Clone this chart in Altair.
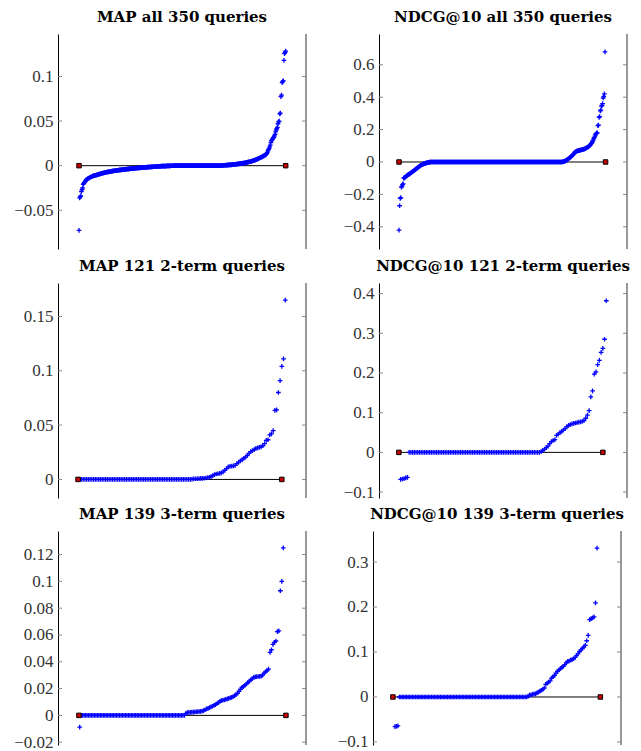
import altair as alt
import pandas as pd

TITLES = [
    "MAP all 350 queries", "NDCG@10 all 350 queries",
    "MAP 121 2-term queries", "NDCG@10 121 2-term queries",
    "MAP 139 3-term queries", "NDCG@10 139 3-term queries",
]

MAP_ALL = [
    -0.0725, -0.036, -0.035, -0.034, -0.029, -0.027, -0.025,
    -0.021, -0.020, -0.019, -0.018, -0.017,
    -0.0160, -0.0155, -0.0150, -0.0146, -0.0142, -0.0138, -0.0134, -0.0130,
    -0.0127, -0.0124, -0.0121, -0.0118, -0.0115, -0.0113, -0.0111, -0.0109, -0.0107, -0.0105,
    -0.0103, -0.0101, -0.0099, -0.0097, -0.0095, -0.0093, -0.0091, -0.0089, -0.0087, -0.0085,
    -0.0083, -0.0082, -0.0080, -0.0079, -0.0077, -0.0076, -0.0074, -0.0073, -0.0071, -0.0070,
    -0.0069, -0.0068, -0.0066, -0.0065, -0.0064, -0.0063, -0.0062, -0.0060, -0.0059, -0.0058,
    -0.0057, -0.0056, -0.0055, -0.0054, -0.0053, -0.0052, -0.0051, -0.0050, -0.0049, -0.0048,
    -0.0047, -0.0046, -0.0046, -0.0045, -0.0044, -0.0043, -0.0042, -0.0042, -0.0041, -0.0040,
    -0.0039, -0.0039, -0.0038, -0.0037, -0.0036, -0.0036, -0.0035, -0.0034, -0.0034, -0.0033,
    -0.0032, -0.0032, -0.0031, -0.0030, -0.0030, -0.0029, -0.0028, -0.0028, -0.0027, -0.0026,
    -0.0026, -0.0025, -0.0025, -0.0024, -0.0023, -0.0023, -0.0022, -0.0022, -0.0021, -0.0020,
    -0.0020, -0.0019, -0.0019, -0.0018, -0.0018, -0.0017, -0.0017, -0.0016, -0.0016, -0.0015,
    -0.0015, -0.0014, -0.0014, -0.0013, -0.0013, -0.0012, -0.0012, -0.0011, -0.0011, -0.0010,
    -0.0010, -0.0009, -0.0009, -0.0009, -0.0008, -0.0008, -0.0007, -0.0007, -0.0007, -0.0006,
    -0.0006, -0.0006, -0.0005, -0.0005, -0.0005, -0.0004, -0.0004, -0.0004, -0.0003, -0.0003,
    -0.0003, -0.0002, -0.0002, -0.0002, -0.0002, -0.0001, -0.0001, -0.0001, -0.0001, -0.0001,
    0, 0, 0, 0, 0, 0, 0, 0, 0, 0, 0, 0, 0, 0, 0, 0, 0, 0, 0, 0,
    0, 0, 0, 0, 0, 0, 0, 0, 0, 0, 0, 0, 0, 0, 0, 0, 0, 0, 0, 0,
    0, 0, 0, 0, 0, 0, 0, 0, 0, 0, 0, 0, 0, 0, 0, 0, 0, 0, 0, 0,
    0, 0, 0, 0, 0, 0, 0, 0, 0, 0, 0, 0, 0, 0, 0, 0, 0, 0, 0, 0,
    0.0002, 0.0002, 0.0003, 0.0003, 0.0004, 0.0004, 0.0005, 0.0005, 0.0006, 0.0006,
    0.0007, 0.0007, 0.0008, 0.0008, 0.0009, 0.0009, 0.0010, 0.0010, 0.0011, 0.0012,
    0.0012, 0.0013, 0.0014, 0.0014, 0.0015, 0.0016, 0.0017, 0.0018, 0.0019, 0.0020,
    0.0021, 0.0022, 0.0023, 0.0024, 0.0025, 0.0026, 0.0027, 0.0028, 0.0029, 0.0030,
    0.0032, 0.0033, 0.0035, 0.0036, 0.0038, 0.0039, 0.0041, 0.0042, 0.0044, 0.0045,
    0.0047, 0.0049, 0.0051, 0.0053, 0.0055, 0.0057, 0.0059, 0.0062, 0.0065, 0.0068,
    0.0071, 0.0074, 0.0077, 0.0080, 0.0083, 0.0086, 0.0089, 0.0092, 0.0095, 0.0098,
    0.0102, 0.0106, 0.0110, 0.0114, 0.0118, 0.0122, 0.0126, 0.0135,
    0.0150, 0.0165, 0.0180, 0.0195, 0.0210, 0.0230, 0.0260, 0.0280, 0.0290, 0.0300, 0.0310, 0.0320,
    0.0335, 0.0350, 0.0380, 0.0400, 0.0415, 0.0430, 0.0470, 0.0490, 0.0500, 0.0580,
    0.0590, 0.0775, 0.0790, 0.0930, 0.0945, 0.0950, 0.1180, 0.1255, 0.1270, 0.1285,
]

NDCG_ALL = [
    -0.42, -0.27, -0.225, -0.22, -0.155, -0.150, -0.140, -0.135,
    -0.100, -0.098, -0.095, -0.092,
    -0.088, -0.085, -0.083, -0.080, -0.078, -0.075, -0.073, -0.070,
    -0.068, -0.065, -0.062, -0.060, -0.057, -0.054, -0.051, -0.049, -0.046, -0.043,
    -0.040, -0.037, -0.034, -0.031, -0.028, -0.025, -0.022, -0.020, -0.018, -0.016,
    -0.014, -0.013, -0.012, -0.010, -0.009, -0.008, -0.006, -0.005, -0.004, -0.003,
    -0.002, -0.002, -0.001, -0.001,
    0, 0, 0, 0, 0, 0, 0, 0, 0, 0, 0, 0, 0, 0, 0, 0, 0, 0, 0, 0,
    0, 0, 0, 0, 0, 0, 0, 0, 0, 0, 0, 0, 0, 0, 0, 0, 0, 0, 0, 0,
    0, 0, 0, 0, 0, 0, 0, 0, 0, 0, 0, 0, 0, 0, 0, 0, 0, 0, 0, 0,
    0, 0, 0, 0, 0, 0, 0, 0, 0, 0, 0, 0, 0, 0, 0, 0, 0, 0, 0, 0,
    0, 0, 0, 0, 0, 0, 0, 0, 0, 0, 0, 0, 0, 0, 0, 0, 0, 0, 0, 0,
    0, 0, 0, 0, 0, 0, 0, 0, 0, 0, 0, 0, 0, 0, 0, 0, 0, 0, 0, 0,
    0, 0, 0, 0, 0, 0, 0, 0, 0, 0, 0, 0, 0, 0, 0, 0, 0, 0, 0, 0,
    0, 0, 0, 0, 0, 0, 0, 0, 0, 0, 0, 0, 0, 0, 0, 0, 0, 0, 0, 0,
    0, 0, 0, 0, 0, 0, 0, 0, 0, 0, 0, 0, 0, 0, 0, 0, 0, 0, 0, 0,
    0, 0, 0, 0, 0, 0, 0, 0, 0, 0, 0, 0, 0, 0, 0, 0, 0, 0, 0, 0,
    0, 0, 0, 0, 0, 0, 0, 0, 0, 0, 0, 0, 0, 0, 0, 0, 0, 0, 0, 0,
    0, 0, 0,
    0.001, 0.002, 0.003, 0.004, 0.005, 0.007, 0.009, 0.011,
    0.014, 0.017, 0.020, 0.023, 0.026, 0.029, 0.032, 0.035, 0.038, 0.041,
    0.045, 0.050, 0.055, 0.060, 0.063, 0.065, 0.067, 0.068, 0.069, 0.070,
    0.071, 0.072, 0.073, 0.074, 0.075, 0.076, 0.077, 0.078, 0.079, 0.080,
    0.082, 0.084, 0.086, 0.088, 0.090, 0.092, 0.095, 0.098, 0.101, 0.105,
    0.110, 0.115, 0.120, 0.128, 0.135, 0.145, 0.150, 0.160, 0.170, 0.175,
    0.178, 0.180, 0.225, 0.228, 0.275, 0.280, 0.315, 0.320,
    0.345, 0.350, 0.360, 0.395, 0.405, 0.420, 0.680,
]

MAP_2T = [
    0, 0, 0, 0, 0, 0, 0, 0, 0, 0, 0, 0, 0, 0, 0, 0, 0, 0, 0, 0, 0, 0,
    0, 0, 0, 0, 0, 0, 0, 0, 0, 0, 0, 0, 0, 0, 0, 0, 0, 0, 0, 0, 0, 0,
    0, 0, 0, 0, 0, 0, 0, 0, 0, 0, 0, 0, 0, 0, 0, 0, 0, 0, 0, 0, 0, 0,
    0.0003, 0.0005, 0.0006, 0.0007, 0.0008, 0.0009, 0.0010, 0.0011, 0.0013,
    0.0016, 0.0020, 0.0025, 0.0035, 0.0045,
    0.0050, 0.0052, 0.0055, 0.0060, 0.0070, 0.0085, 0.0100, 0.0115, 0.0120, 0.0122,
    0.0125, 0.0130, 0.0145, 0.0160, 0.0170, 0.0180, 0.0195, 0.0205, 0.0220, 0.0240,
    0.0255, 0.0265, 0.0275, 0.0285, 0.0290, 0.0295, 0.0300, 0.0310, 0.0330, 0.0360,
    0.0365, 0.0410, 0.0420, 0.0450, 0.0635, 0.0640, 0.0800, 0.0910, 0.1040, 0.1110, 0.1650,
]

NDCG_2T = [
    -0.068, -0.067, -0.066, -0.064, -0.063,
    0, 0, 0, 0, 0, 0, 0, 0, 0, 0, 0, 0, 0, 0, 0, 0, 0, 0, 0, 0, 0, 0,
    0, 0, 0, 0, 0, 0, 0, 0, 0, 0, 0, 0, 0, 0, 0, 0, 0, 0, 0, 0, 0, 0,
    0, 0, 0, 0, 0, 0, 0, 0, 0, 0, 0, 0, 0, 0, 0, 0, 0, 0, 0, 0, 0, 0,
    0, 0, 0, 0, 0, 0, 0, 0, 0, 0, 0,
    0.002, 0.005, 0.008, 0.012, 0.016, 0.022, 0.027, 0.030,
    0.032, 0.043, 0.046, 0.050, 0.053, 0.056, 0.060, 0.065, 0.068, 0.070,
    0.072, 0.073, 0.074, 0.075, 0.076, 0.077, 0.078, 0.080, 0.086, 0.094,
    0.105, 0.140, 0.155, 0.197, 0.203, 0.221, 0.232, 0.252, 0.262, 0.285, 0.382,
]

MAP_3T = [
    -0.0087,
    0, 0, 0, 0, 0, 0, 0, 0, 0, 0, 0, 0, 0, 0, 0, 0, 0, 0, 0, 0, 0, 0, 0, 0,
    0, 0, 0, 0, 0, 0, 0, 0, 0, 0, 0, 0, 0, 0, 0, 0, 0, 0, 0, 0, 0, 0, 0, 0,
    0, 0, 0, 0, 0, 0, 0, 0, 0, 0, 0, 0, 0, 0, 0, 0, 0, 0, 0, 0, 0, 0, 0,
    0.0015, 0.0020, 0.0022, 0.0023, 0.0024, 0.0025, 0.0026, 0.0027,
    0.0028, 0.0029, 0.0030, 0.0032, 0.0036, 0.0042, 0.0048, 0.0053, 0.0058, 0.0063,
    0.0068, 0.0074, 0.0080, 0.0087, 0.0095, 0.0105, 0.0110, 0.0113, 0.0116, 0.0120,
    0.0123, 0.0127, 0.0131, 0.0135, 0.0140, 0.0147, 0.0155, 0.0165, 0.0180, 0.0195,
    0.0210, 0.0215, 0.0225, 0.0235, 0.0245, 0.0255, 0.0265, 0.0275, 0.0283, 0.0287,
    0.0289, 0.0290, 0.0291, 0.0293, 0.0300, 0.0315, 0.0325, 0.0335, 0.0345, 0.0470,
    0.0490, 0.0530, 0.0545, 0.0555, 0.0625, 0.0630, 0.0930, 0.1000, 0.1250,
]

NDCG_3T = [
    -0.066, -0.065, -0.064,
    0, 0, 0, 0, 0, 0, 0, 0, 0, 0, 0, 0, 0, 0, 0, 0, 0, 0, 0, 0, 0, 0,
    0, 0, 0, 0, 0, 0, 0, 0, 0, 0, 0, 0, 0, 0, 0, 0, 0, 0, 0, 0, 0, 0,
    0, 0, 0, 0, 0, 0, 0, 0, 0, 0, 0, 0, 0, 0, 0, 0, 0, 0, 0, 0, 0, 0,
    0, 0, 0, 0, 0, 0, 0, 0, 0, 0, 0, 0, 0, 0, 0, 0, 0, 0, 0, 0, 0, 0,
    0.002, 0.004, 0.005, 0.006, 0.007, 0.007, 0.009, 0.011, 0.013,
    0.015, 0.017, 0.020, 0.028, 0.031, 0.033, 0.036, 0.042, 0.045, 0.048,
    0.053, 0.057, 0.060, 0.063, 0.066, 0.068, 0.072, 0.076, 0.079, 0.080,
    0.082, 0.083, 0.085, 0.088, 0.092, 0.096, 0.101, 0.104, 0.108, 0.111,
    0.115, 0.125, 0.137, 0.172, 0.174, 0.176, 0.178, 0.209, 0.331,
]

Y_DOMAINS = [
    [-0.0934, 0.1476], [-0.537, 0.790],
    [-0.0171, 0.1808], [-0.1149, 0.4267],
    [-0.0221, 0.1376], [-0.1067, 0.3689],
]
Y_TICKS = [
    [-0.05, 0, 0.05, 0.1], [-0.4, -0.2, 0, 0.2, 0.4, 0.6],
    [0, 0.05, 0.1, 0.15], [-0.1, 0, 0.1, 0.2, 0.3, 0.4],
    [-0.02, 0, 0.02, 0.04, 0.06, 0.08, 0.1, 0.12], [-0.1, 0, 0.1, 0.2, 0.3],
]
X_DOMAINS = [
    [-34.5, 384.3], [-32.9, 387.3],
    [-10.6, 133.0], [-11.6, 133.1],
    [-13.7, 154.4], [-14.0, 155.4],
]
LINE_SPANS = [[1, 350], [1, 351], [1, 119], [0, 119], [0.5, 140.8], [-0.4, 141.3]]
AXIS_EXTENTS = [50, 52, 44, 52, 50, 46]
HEIGHTS = [215, 215, 215, 215, 214, 214]

W = 248
PLUS = "M-1,0L1,0M0,-1L0,1"


def panel(k, values):
    H = HEIGHTS[k]
    n = len(values)
    pts = pd.DataFrame({"i": list(range(1, n + 1)), "v": values})
    span = LINE_SPANS[k]
    seg = pd.DataFrame({"a": [span[0]], "b": [span[1]], "v": [0]})
    ends = pd.DataFrame({"i": span, "v": [0, 0]})
    ticks = pd.DataFrame({"t": Y_TICKS[k]})
    one = pd.DataFrame({"o": [0]})
    xs = alt.Scale(domain=X_DOMAINS[k], nice=False, zero=False)
    ys = alt.Scale(domain=Y_DOMAINS[k], nice=False, zero=False)
    yaxis = alt.Axis(
        values=Y_TICKS[k], format="~g", ticks=False, grid=False,
        domainColor="black", domainWidth=1,
        labelFont="Liberation Serif", labelFontSize=17, labelColor="#333333",
        labelPadding=5, minExtent=AXIS_EXTENTS[k], maxExtent=AXIS_EXTENTS[k],
    )

    left_ticks = alt.Chart(ticks).mark_rule(color="#888888", strokeWidth=1).encode(
        y=alt.Y("t:Q", scale=ys, axis=yaxis, title=None),
        x=alt.value(0), x2=alt.value(4),
    )
    right_ticks = alt.Chart(ticks).mark_rule(color="#888888", strokeWidth=1).encode(
        y=alt.Y("t:Q", scale=ys, axis=yaxis, title=None),
        x=alt.value(W - 4), x2=alt.value(W),
    )
    right_axis = alt.Chart(one).mark_rule(color="#777777", strokeWidth=1.5).encode(
        x=alt.value(W), y=alt.value(0), y2=alt.value(H),
    )
    line = alt.Chart(seg).mark_rule(color="black", strokeWidth=1).encode(
        x=alt.X("a:Q", scale=xs, axis=None), x2="b:Q",
        y=alt.Y("v:Q", scale=ys, axis=yaxis, title=None),
    )
    points = alt.Chart(pts).mark_point(
        shape=PLUS, filled=False, color="#0000ff", size=22, strokeWidth=1.3, opacity=1,
    ).encode(
        x=alt.X("i:Q", scale=xs, axis=None),
        y=alt.Y("v:Q", scale=ys, axis=yaxis, title=None),
    )
    squares = alt.Chart(ends).mark_point(
        shape="square", filled=True, fill="#cc0000", stroke="black",
        strokeWidth=1, size=20, opacity=1, fillOpacity=1,
    ).encode(
        x=alt.X("i:Q", scale=xs, axis=None),
        y=alt.Y("v:Q", scale=ys, axis=yaxis, title=None),
    )
    return alt.layer(left_ticks, right_ticks, right_axis, line, points, squares).properties(
        width=W, height=H,
        title=alt.TitleParams(
            TITLES[k], font="DejaVu Serif", fontSize=15, fontWeight="bold",
            color="black", anchor="middle", frame="group", offset=8,
        ),
    )


SERIES = [MAP_ALL, NDCG_ALL, MAP_2T, NDCG_2T, MAP_3T, NDCG_3T]
row1 = alt.hconcat(panel(0, SERIES[0]), panel(1, SERIES[1]), spacing=20)
row2 = alt.hconcat(panel(2, SERIES[2]), panel(3, SERIES[3]), spacing=20)
row3 = alt.hconcat(panel(4, SERIES[4]), panel(5, SERIES[5]), spacing=20)
top_rows = alt.vconcat(row1, row2, spacing=9)
chart = alt.vconcat(top_rows, row3, spacing=6).properties(
    padding={"left": 0, "top": 2, "right": 0, "bottom": 0},
).configure_view(strokeWidth=0)

chart.save("out.html", embed_options={"renderer": "svg", "actions": False})
